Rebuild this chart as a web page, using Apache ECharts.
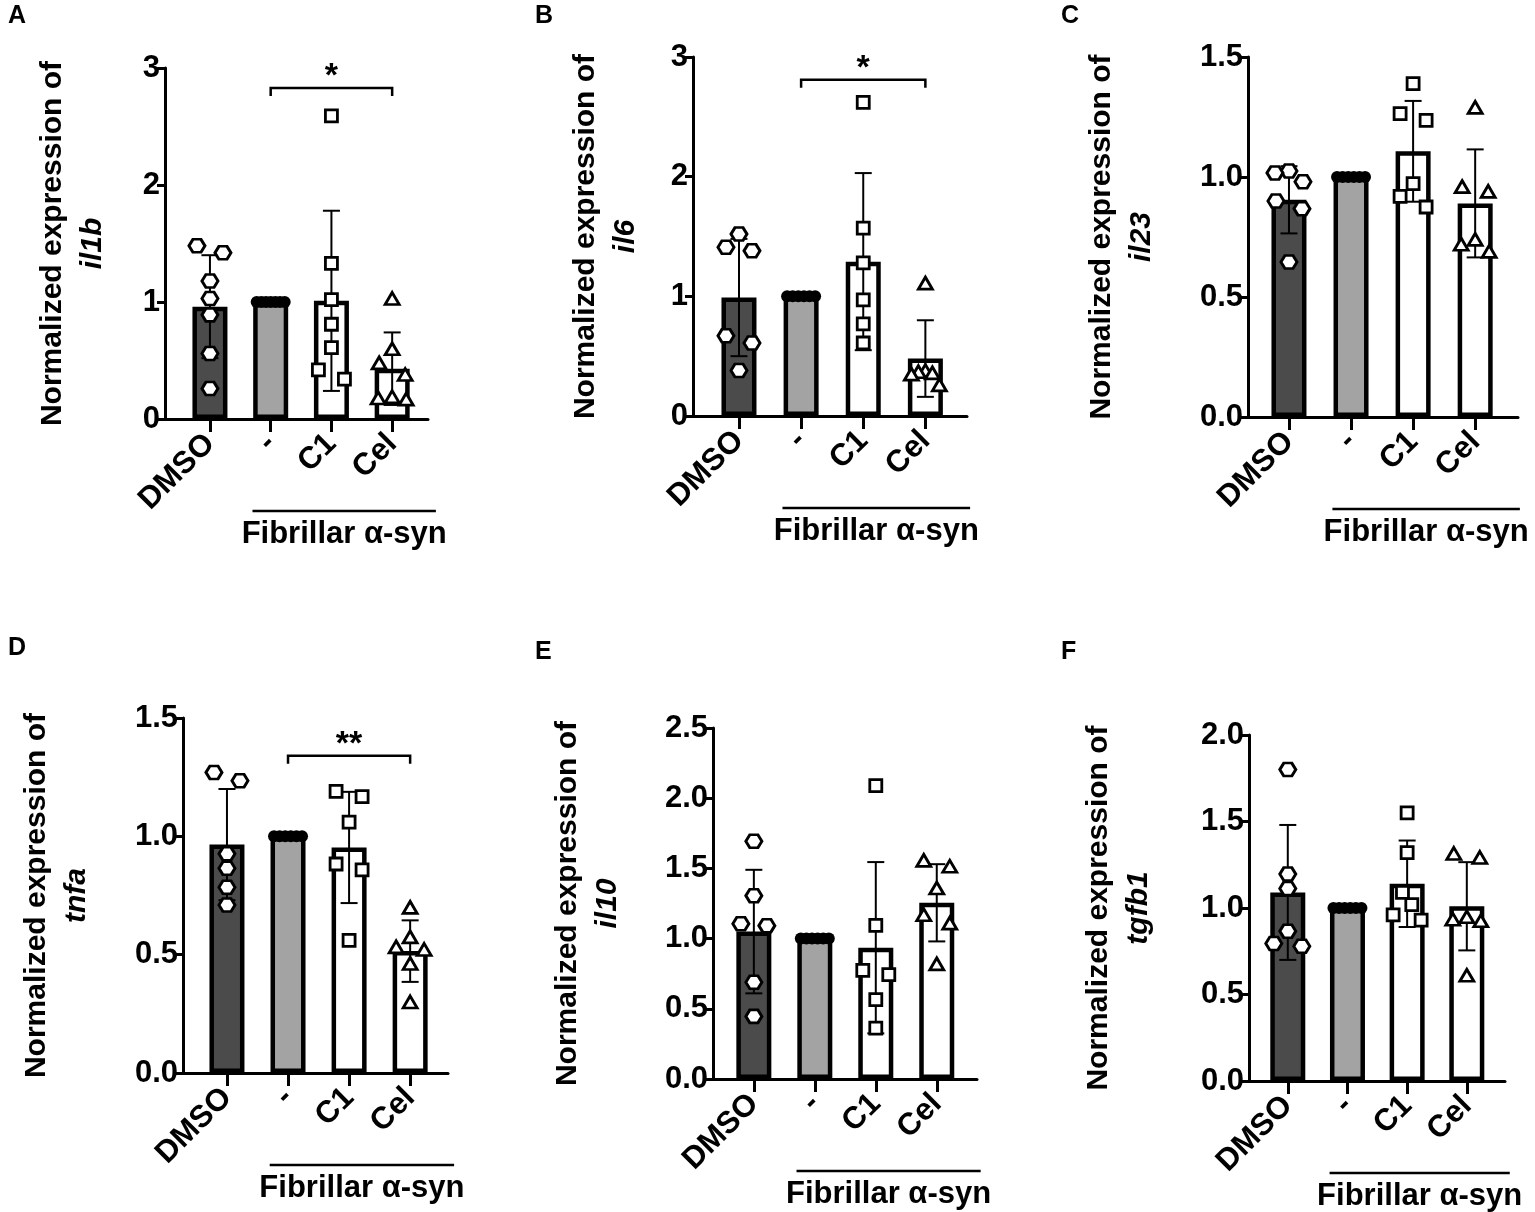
<!DOCTYPE html>
<html>
<head>
<meta charset="utf-8">
<script src="https://cdn.jsdelivr.net/npm/echarts@6/dist/echarts.min.js"></script>
<style>
  html, body { margin: 0; padding: 0; background: #fff; }
  #main { width: 1535px; height: 1212px; }
</style>
</head>
<body>
<div id="main"></div>
<script>
// groups on the x axis
const groups = ["DMSO", "-", "C1", "Cel"];
const genes = ["il1b", "il6", "il23", "tnfa", "il10", "tgfb1"];
const letters = ["A", "B", "C", "D", "E", "F"];

// y tick labels per panel
const yTicksA = [0, 1, 2, 3];
const yTicksB = [0, 1, 2, 3];
const yTicksC = [0, 0.5, 1.0, 1.5];
const yTicksD = [0, 0.5, 1.0, 1.5];
const yTicksE = [0, 0.5, 1.0, 1.5, 2.0, 2.5];
const yTicksF = [0, 0.5, 1.0, 1.5, 2.0];

// bar means and SD (DMSO, -, C1, Cel)
const meanA = [0.96, 1.0, 1.01, 0.43];
const sdA = [0.44, 0, 0.77, 0.31];
const meanB = [0.99, 1.0, 1.29, 0.48];
const sdB = [0.49, 0, 0.74, 0.32];
const meanC = [0.905, 1.0, 1.107, 0.89];
const sdC = [0.14, 0, 0.21, 0.225];
const meanD = [0.965, 1.0, 0.953, 0.515];
const sdD = [0.235, 0, 0.235, 0.13];
const meanE = [1.05, 1.0, 0.935, 1.255];
const sdE = [0.44, 0, 0.61, 0.275];
const meanF = [1.09, 1.0, 1.14, 1.01];
const sdF = [0.39, 0, 0.25, 0.255];

// individual points
const ptsA = [
  [1.48, 1.42, 1.18, 1.03, 0.89, 0.56, 0.26],
  [1, 1, 1, 1, 1, 1, 1],
  [2.59, 1.33, 1.02, 0.81, 0.61, 0.42, 0.34],
  [1.03, 0.60, 0.48, 0.38, 0.19, 0.18, 0.17]
];
const ptsB = [
  [1.52, 1.41, 1.38, 0.67, 0.61, 0.38],
  [1, 1, 1, 1, 1, 1],
  [2.62, 1.57, 1.28, 0.97, 0.77, 0.61],
  [1.11, 0.38, 0.37, 0.36, 0.35, 0.26]
];
const ptsC = [
  [1.025, 1.017, 0.98, 0.90, 0.868, 0.646],
  [1, 1, 1, 1, 1, 1],
  [1.389, 1.264, 1.236, 0.972, 0.919, 0.875],
  [1.29, 0.96, 0.94, 0.74, 0.72, 0.69]
];
const ptsD = [
  [1.27, 1.235, 0.926, 0.865, 0.785, 0.71],
  [1, 1, 1, 1, 1, 1],
  [1.19, 1.168, 1.06, 0.883, 0.858, 0.56],
  [0.70, 0.575, 0.533, 0.522, 0.463, 0.30]
];
const ptsE = [
  [1.693, 1.306, 1.106, 1.092, 0.689, 0.446],
  [1, 1, 1, 1, 1, 1],
  [2.089, 1.094, 0.774, 0.743, 0.565, 0.363],
  [1.557, 1.515, 1.36, 1.17, 1.11, 0.82]
];
const ptsF = [
  [1.80, 1.196, 1.113, 0.866, 0.795, 0.779],
  [1, 1, 1, 1, 1, 1],
  [1.55, 1.32, 1.09, 1.02, 0.96, 0.93],
  [1.315, 1.292, 0.949, 0.935, 0.926, 0.611]
];

// significance brackets: [from group, to group, height, label]
const sigA = [[1, 3, 2.83, "*"]];
const sigB = [[1, 3, 2.81, "*"]];
const sigD = [[1, 3, 1.34, "**"]];

const FONT = "'Liberation Sans', Arial, sans-serif";

const panels = [
  { ticks: yTicksA, mean: meanA, sd: sdA, pts: ptsA, sig: sigA, dec: 0,
    left: 165, top: 68, width: 263, height: 351, xmin: -0.74, xmax: 3.59, nameGap: 52, lx: 8, ly: 4 },
  { ticks: yTicksB, mean: meanB, sd: sdB, pts: ptsB, sig: sigB, dec: 0,
    left: 693, top: 57, width: 274, height: 359, xmin: -0.74, xmax: 3.67, nameGap: 47, lx: 535, ly: 4 },
  { ticks: yTicksC, mean: meanC, sd: sdC, pts: ptsC, sig: [], dec: 1,
    left: 1248, top: 57, width: 270, height: 360, xmin: -0.66, xmax: 3.69, nameGap: 86, lx: 1061, ly: 4 },
  { ticks: yTicksD, mean: meanD, sd: sdD, pts: ptsD, sig: sigD, dec: 1,
    left: 183, top: 718, width: 265, height: 355, xmin: -0.72, xmax: 3.62, nameGap: 86, lx: 8, ly: 636 },
  { ticks: yTicksE, mean: meanE, sd: sdE, pts: ptsE, sig: [], dec: 1,
    left: 713, top: 728, width: 264, height: 351, xmin: -0.67, xmax: 3.66, nameGap: 85, lx: 535, ly: 640 },
  { ticks: yTicksF, mean: meanF, sd: sdF, pts: ptsF, sig: [], dec: 1,
    left: 1249, top: 735, width: 256, height: 346, xmin: -0.65, xmax: 3.64, nameGap: 90, lx: 1061, ly: 640 }
];

const fills = ["#4b4b4b", "#a3a3a3", "#ffffff", "#ffffff"];
const hexagon = "path://M0,50 L25,0 L75,0 L100,50 L75,100 L25,100 Z";
const symbols = [
  { symbol: hexagon, size: [16, 13], color: "#fff", border: 2.8 },
  { symbol: "circle", size: 12, color: "#000", border: 0 },
  { symbol: "rect", size: 12, color: "#fff", border: 2.8 },
  { symbol: "triangle", size: [14, 12], color: "#fff", border: 2.8 }
];

// GraphPad-like scatter spreading: near-equal values go side by side
function swarm(values, pxY, pxX) {
  const order = values.map((v, i) => i).sort((a, b) => values[b] - values[a]);
  const rows = [];
  let cur = [];
  order.forEach(i => {
    if (cur.length && (values[cur[cur.length - 1]] - values[i]) * pxY < 12.5) cur.push(i);
    else { if (cur.length) rows.push(cur); cur = [i]; }
  });
  if (cur.length) rows.push(cur);
  const off = new Array(values.length).fill(0);
  rows.forEach(r => {
    const n = r.length;
    if (n < 2) return;
    const s = Math.min(26, 28 / (n - 1));
    r.forEach((i, k) => {
      const slot = n % 2
        ? (k % 2 ? -1 : 1) * Math.ceil(k / 2)
        : (k % 2 ? 1 : -1) * (Math.floor(k / 2) + 0.5);
      off[i] = slot * s / pxX;
    });
  });
  return off;
}

const grid = [], xAxis = [], yAxis = [], series = [];

panels.forEach((p, i) => {
  const ymax = p.ticks[p.ticks.length - 1];
  const pxY = p.height / ymax;
  const pxX = p.width / (p.xmax - p.xmin);
  grid.push({ left: p.left, top: p.top, width: p.width, height: p.height });
  xAxis.push({
    type: "value", gridIndex: i, min: p.xmin, max: p.xmax,
    splitLine: { show: false },
    axisLine: { show: true, onZero: false, lineStyle: { color: "#000", width: 3 } },
    axisTick: { show: true, customValues: [0, 1, 2, 3], length: 13, lineStyle: { color: "#000", width: 3 } },
    axisLabel: {
      customValues: [0, 1, 2, 3], rotate: 45, margin: 20,
      color: "#000", fontSize: 31, fontWeight: "bold", fontFamily: FONT,
      formatter: v => groups[Math.round(v)]
    }
  });
  yAxis.push({
    type: "value", gridIndex: i, min: 0, max: ymax, interval: p.ticks[1] - p.ticks[0],
    splitLine: { show: false },
    axisLine: { show: true, onZero: false, lineStyle: { color: "#000", width: 3 } },
    axisTick: { show: true, length: 8, lineStyle: { color: "#000", width: 3 } },
    axisLabel: {
      color: "#000", fontSize: 31, fontWeight: "bold", fontFamily: FONT, margin: 5,
      formatter: v => v.toFixed(p.dec)
    },
    name: "{a|Normalized expression of}\n{b|" + genes[i] + "}",
    nameLocation: "middle", nameRotate: 90, nameGap: p.nameGap,
    nameTextStyle: {
      rich: {
        a: { fontSize: 30, fontWeight: "bold", fontFamily: FONT, color: "#000", lineHeight: 40, align: "center" },
        b: { fontSize: 30, fontWeight: "bold", fontStyle: "italic", fontFamily: FONT, color: "#000", lineHeight: 40, align: "center" }
      }
    }
  });

  series.push({
    type: "bar", xAxisIndex: i, yAxisIndex: i, barWidth: 35, silent: true, z: 2,
    itemStyle: { borderColor: "#000", borderWidth: 4.5 },
    data: p.mean.map((m, k) => ({ value: [k, m], itemStyle: { color: fills[k] } }))
  });

  series.push({
    type: "custom", xAxisIndex: i, yAxisIndex: i, silent: true, z: 3,
    data: p.mean.map((m, k) => [k, m - p.sd[k], m + p.sd[k]]).filter((d, k) => p.sd[k] > 0),
    renderItem(params, api) {
      const x = api.value(0);
      const lo = api.coord([x, api.value(1)]);
      const hi = api.coord([x, api.value(2)]);
      const w = 8.5;
      const st = { stroke: "#000", lineWidth: 2 };
      return {
        type: "group",
        children: [
          { type: "line", shape: { x1: hi[0], y1: hi[1], x2: lo[0], y2: lo[1] }, style: st },
          { type: "line", shape: { x1: hi[0] - w, y1: hi[1], x2: hi[0] + w, y2: hi[1] }, style: st },
          { type: "line", shape: { x1: lo[0] - w, y1: lo[1], x2: lo[0] + w, y2: lo[1] }, style: st }
        ]
      };
    }
  });

  p.pts.forEach((vals, k) => {
    const off = swarm(vals, pxY, pxX);
    const sy = symbols[k];
    series.push({
      type: "scatter", xAxisIndex: i, yAxisIndex: i, silent: true, z: 4,
      symbol: sy.symbol, symbolSize: sy.size,
      itemStyle: { color: sy.color, borderColor: "#000", borderWidth: sy.border, opacity: 1 },
      data: vals.map((v, j) => [k + off[j], v])
    });
  });

  if (p.sig.length) {
    series.push({
      type: "custom", xAxisIndex: i, yAxisIndex: i, silent: true, z: 5,
      data: p.sig.map(s => [s[0], s[1], s[2]]),
      renderItem(params, api) {
        const a = api.coord([api.value(0), api.value(2)]);
        const b = api.coord([api.value(1), api.value(2)]);
        const h = 8;
        return {
          type: "group",
          children: [
            { type: "polyline", shape: { points: [[a[0], a[1] + h], a, b, [b[0], b[1] + h]] },
              style: { stroke: "#000", lineWidth: 2.5, fill: null } },
            { type: "text", x: (a[0] + b[0]) / 2, y: a[1] + 6,
              style: { text: p.sig[params.dataIndex][3], fill: "#000", font: "bold 34px " + FONT,
                       align: "center", verticalAlign: "bottom" } }
          ]
        };
      }
    });
  }
});

const chart = echarts.init(document.getElementById("main"));
chart.setOption({ animation: false, grid, xAxis, yAxis, series });

// "Fibrillar α-syn" underline and panel letters
const graphic = [];
panels.forEach((p, i) => {
  const a = chart.convertToPixel({ gridIndex: i }, [0.7, 0]);
  const b = chart.convertToPixel({ gridIndex: i }, [3.72, 0]);
  const y = a[1] + 92;
  graphic.push({ type: "line", shape: { x1: a[0], y1: y, x2: b[0], y2: y }, style: { stroke: "#000", lineWidth: 2.5 } });
  graphic.push({ type: "text", x: (a[0] + b[0]) / 2, y: y + 8,
    style: { text: "Fibrillar α-syn", fill: "#000", font: "bold 31px " + FONT, align: "center", verticalAlign: "top" } });
  graphic.push({ type: "text", x: p.lx, y: p.ly,
    style: { text: letters[i], fill: "#000", font: "bold 25px " + FONT, align: "left", verticalAlign: "top" } });
});
chart.setOption({ graphic });
</script>
</body>
</html>
